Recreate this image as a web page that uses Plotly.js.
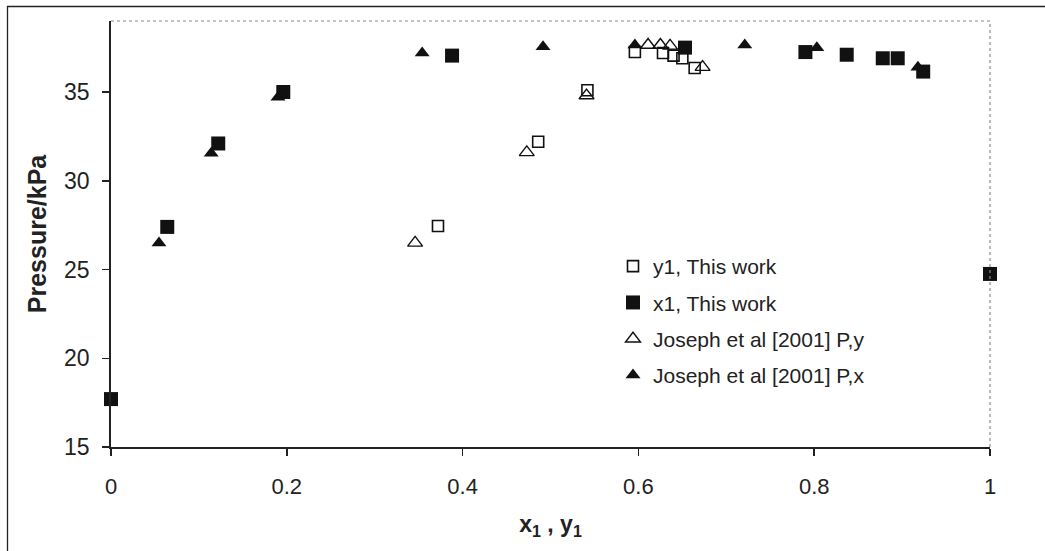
<!DOCTYPE html>
<html>
<head>
<meta charset="utf-8">
<script src="https://cdn.plot.ly/plotly-3.0.1.min.js"></script>
<style>
  html, body { margin: 0; padding: 0; background: #fff; }
  #chart { width: 1045px; height: 551px; }
</style>
</head>
<body>
<div id="chart"></div>
<script>
// Vapour-liquid equilibrium data, pressure (kPa) against mole fraction of component 1

// y1, This work (vapour phase)
const y1ThisWorkX = [0.372, 0.486, 0.542, 0.596, 0.628, 0.640, 0.650, 0.664];
const y1ThisWorkP = [27.45, 32.2, 35.1, 37.25, 37.2, 37.05, 36.9, 36.35];

// x1, This work (liquid phase)
const x1ThisWorkX = [0.0, 0.064, 0.122, 0.196, 0.388, 0.653, 0.790, 0.837, 0.878, 0.895, 0.924, 1.0];
const x1ThisWorkP = [17.7, 27.4, 32.1, 35.0, 37.05, 37.5, 37.25, 37.1, 36.9, 36.9, 36.15, 24.75];

// Joseph et al [2001] P,y
const josephYX = [0.346, 0.473, 0.541, 0.611, 0.625, 0.636, 0.673];
const josephYP = [26.5, 31.6, 34.8, 37.65, 37.65, 37.6, 36.4];

// Joseph et al [2001] P,x
const josephXX = [0.0546, 0.114, 0.190, 0.354, 0.4915, 0.596, 0.721, 0.803, 0.918];
const josephXP = [26.5, 31.55, 34.7, 37.2, 37.55, 37.65, 37.65, 37.5, 36.4];

const seriesNames = [
  'y1, This work',
  'x1, This work',
  'Joseph et al [2001] P,y',
  'Joseph et al [2001] P,x'
];

const xTickVals = [0, 0.2, 0.4, 0.6, 0.8, 1];
const xTickText = ['0', '0.2', '0.4', '0.6', '0.8', '1'];
const yTickVals = [15, 20, 25, 30, 35];

const ink = '#111111';

const traces = [
  {
    x: y1ThisWorkX, y: y1ThisWorkP, name: seriesNames[0], legendgroup: 'a',
    type: 'scatter', mode: 'markers', cliponaxis: false,
    marker: { symbol: 'square-open', size: 11, color: ink, line: { width: 1.6, color: ink } }
  },
  {
    x: x1ThisWorkX, y: x1ThisWorkP, name: seriesNames[1], legendgroup: 'b',
    type: 'scatter', mode: 'markers', cliponaxis: false,
    marker: { symbol: 'square', size: 14, color: ink }
  },
  {
    x: josephYX, y: josephYP, name: seriesNames[2], legendgroup: 'c',
    type: 'scatter', mode: 'markers', cliponaxis: false,
    marker: { symbol: 'triangle-up-open', size: 13, color: ink, line: { width: 1.4, color: ink } }
  },
  {
    x: josephXX, y: josephXP, name: seriesNames[3], legendgroup: 'd',
    type: 'scatter', mode: 'markers', cliponaxis: false,
    marker: { symbol: 'triangle-up', size: 13, color: ink }
  }
];

// plot area in pixels: left 111, right 990, top 21, bottom 447
const W = 1045, H = 551;
const L = 111, R = 990, T = 21, B = 447;
const px = v => (v - L) / (R - L);
const py = v => (B - v) / (B - T);

const layout = {
  width: W, height: H,
  margin: { l: L, r: W - R, t: T, b: H - B, pad: 0 },
  paper_bgcolor: '#ffffff',
  plot_bgcolor: '#ffffff',
  font: { family: 'Liberation Sans, Arial, sans-serif', color: '#222222', size: 20 },
  showlegend: true,
  legend: {
    x: px(613), y: py(246), xanchor: 'left', yanchor: 'top',
    bgcolor: 'rgba(0,0,0,0)',
    font: { size: 21, color: '#222222' },
    traceorder: 'grouped',
    tracegroupgap: 6,
    itemwidth: 30
  },
  xaxis: {
    range: [0, 1],
    tickvals: xTickVals, ticktext: xTickText,
    ticks: 'outside', ticklen: 7, tickwidth: 1.5, tickcolor: '#222',
    ticklabelstandoff: 12,
    showline: true, linecolor: '#222', linewidth: 1.8,
    showgrid: false, zeroline: false,
    tickfont: { size: 22, color: '#222' },
    title: { text: '<b>x<sub>1</sub> , y<sub>1</sub></b>', font: { size: 23, color: '#222' }, standoff: 18 }
  },
  yaxis: {
    range: [15, 39],
    tickvals: yTickVals,
    ticks: 'outside', ticklen: 7, tickwidth: 1.5, tickcolor: '#222',
    ticklabelstandoff: 8,
    showline: true, linecolor: '#222', linewidth: 1.8,
    showgrid: false, zeroline: false,
    tickfont: { size: 23, color: '#222' },
    title: { text: '<b>Pressure/kPa</b>', font: { size: 25, color: '#222' }, standoff: 10 }
  },
  shapes: [
    // plot area frame, top and right edges
    { type: 'line', xref: 'paper', yref: 'paper', x0: 0, x1: 1, y0: 1, y1: 1,
      line: { color: '#8a8a8a', width: 1.2, dash: 'dot' } },
    { type: 'line', xref: 'paper', yref: 'paper', x0: 1, x1: 1, y0: 0, y1: 1,
      line: { color: '#8a8a8a', width: 1.2, dash: 'dot' } },
    // outer chart border
    { type: 'rect', xref: 'paper', yref: 'paper',
      x0: px(7.5), x1: px(1060), y0: py(570), y1: py(6.5),
      line: { color: '#222', width: 1.3 }, fillcolor: 'rgba(0,0,0,0)', layer: 'below' }
  ]
};

Plotly.newPlot('chart', traces, layout, { staticPlot: true, displayModeBar: false });
</script>
</body>
</html>
